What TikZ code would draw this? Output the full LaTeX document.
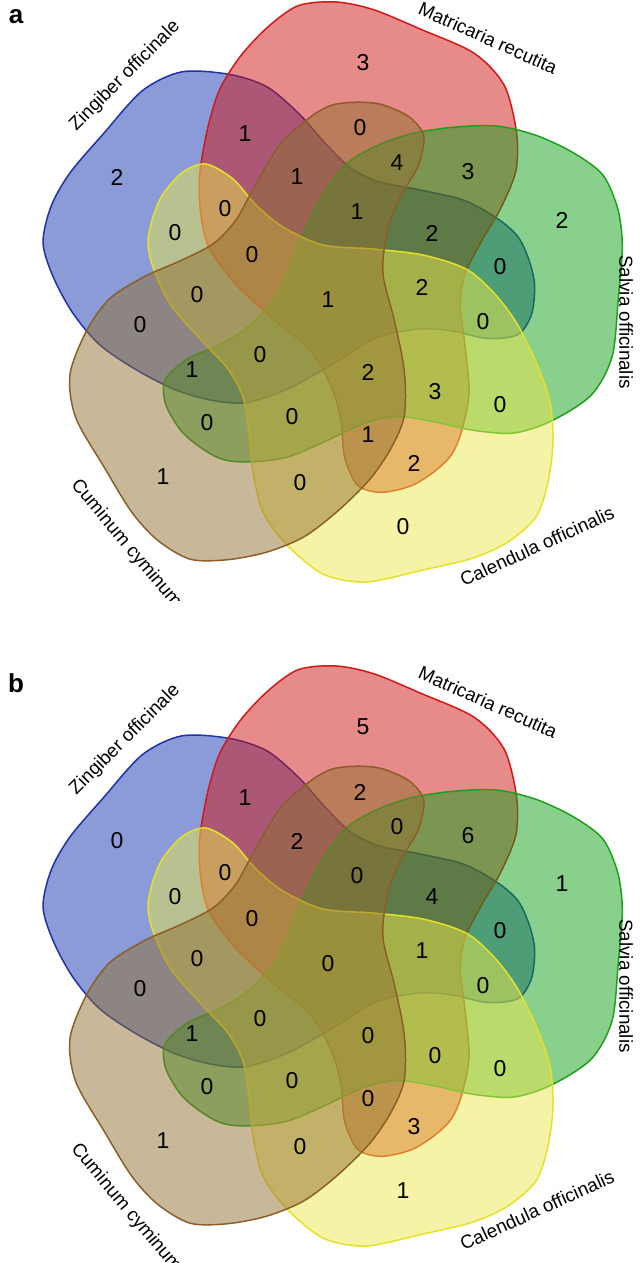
\documentclass[tikz,border=0pt]{standalone}
\usepackage{fontspec}
\setmainfont{Liberation Sans}
\usetikzlibrary{positioning}
\definecolor{zingfill}{RGB}{21,55,175}
\definecolor{zingline}{RGB}{30,50,170}
\definecolor{matrfill}{RGB}{205,21,21}
\definecolor{matrline}{RGB}{210,25,25}
\definecolor{salvfill}{RGB}{19,161,25}
\definecolor{salvline}{RGB}{30,160,30}
\definecolor{calefill}{RGB}{235,231,75}
\definecolor{caleline}{RGB}{230,225,40}
\definecolor{cumifill}{RGB}{145,111,49}
\definecolor{cumiline}{RGB}{140,95,40}

\tikzset{
  setshape/.style={line width=0.75pt, fill opacity=0.5},
  regnum/.style={font=\fontsize{11.5}{12}\selectfont, inner sep=0pt},
  setname/.style={font=\fontsize{9.4}{10}\selectfont, inner sep=0pt},
  panel/.style={font=\fontsize{13}{14}\selectfont\bfseries, inner sep=0pt}
}

% one set of the five: #1 rotation, #2 fill, #3 line
\newcommand{\vennset}[3]{%
  \draw[setshape, shift={(334,300)}, rotate=#1, fill=#2, draw=#3]
    plot[smooth cycle] coordinates {
      (-128,-136) (-101,-121) (-78,-95) (-51,-73) (-11,-55) (39,-51)
      (89,-45) (132,-31) (159,-8) (182,22) (202,62) (216,102)
      (219,142) (214,182) (202,217) (174,242) (139,258) (89,270)
      (32,282) (-11,274) (-48,244) (-71,212) (-81,172) (-85,132)
      (-91,97) (-106,69) (-131,42) (-164,4) (-181,-33) (-186,-58)
      (-181,-83) (-171,-106) (-151,-128)};}

\newcommand{\vennfive}{%
  \vennset{-144}{zingfill}{zingline}
  \vennset{-216}{matrfill}{matrline}
  \vennset{-288}{salvfill}{salvline}
  \vennset{0}{calefill}{caleline}
  \vennset{-72}{cumifill}{cumiline}}

\begin{document}
\begin{tikzpicture}[x=0.5pt, y=-0.5pt]
    \useasboundingbox (0,0) rectangle (641,1263);

    % panel a
    \vennfive
    \node[panel] (pa) at (16,17) {a};
    \node[setname, rotate=45] (za) at (125,76) {Zingiber officinale};
    \node[setname, rotate=-24] (ma) at (488,38) {Matricaria recutita};
    \node[setname, rotate=-90] (sa) at (626,322) {Salvia officinalis};
    \node[setname, rotate=24.5] (ca) at (537,546) {Calendula officinalis};
    \begin{scope}
        \clip (0,0) rectangle (641,600);
        \node[setname, rotate=-50, anchor=west] (cua) at (74,482) {Cuminum cyminum};
    \end{scope}

    % panel b
    \begin{scope}[yshift=-332pt]
        \vennfive
    \end{scope}
    \node[panel] (pb) at (16,683) {b};
    \node[setname, rotate=45] (zb) at (125,740) {Zingiber officinale};
    \node[setname, rotate=-24] (mb) at (488,702) {Matricaria recutita};
    \node[setname, rotate=-90] (sb) at (626,986) {Salvia officinalis};
    \node[setname, rotate=24.5] (cb) at (537,1210) {Calendula officinalis};
    \node[setname, rotate=-50, anchor=west] (cub) at (74,1146) {Cuminum cyminum};

    % region counts, a and b share positions
    \foreach \px/\py/\na/\nb [count=\i] in {
        363/63/3/5, 245/134/1/1, 360/128/0/2, 117/177/2/0, 397/163/4/0,
        468/172/3/6, 297/177/1/2, 225/209/0/0, 175/233/0/0, 357/212/1/0,
        432/233/2/4, 562/220/2/1, 252/255/0/0, 500/267/0/0, 197/295/0/0,
        328/300/1/0, 422/287/2/1, 483/322/0/0, 140/325/0/0, 260/355/0/0,
        192/370/1/1, 368/372/2/0, 435/392/3/0, 207/423/0/0, 292/417/0/0,
        500/405/0/0, 368/435/1/0, 414/463/2/3, 163/477/1/1, 300/483/0/0,
        403/527/0/1} {
        \node[regnum] (a\i) at (\px,\py) {\na};
        \node[regnum] (b\i) at (\px,{\py+664}) {\nb};
    }
\end{tikzpicture}
\end{document}
